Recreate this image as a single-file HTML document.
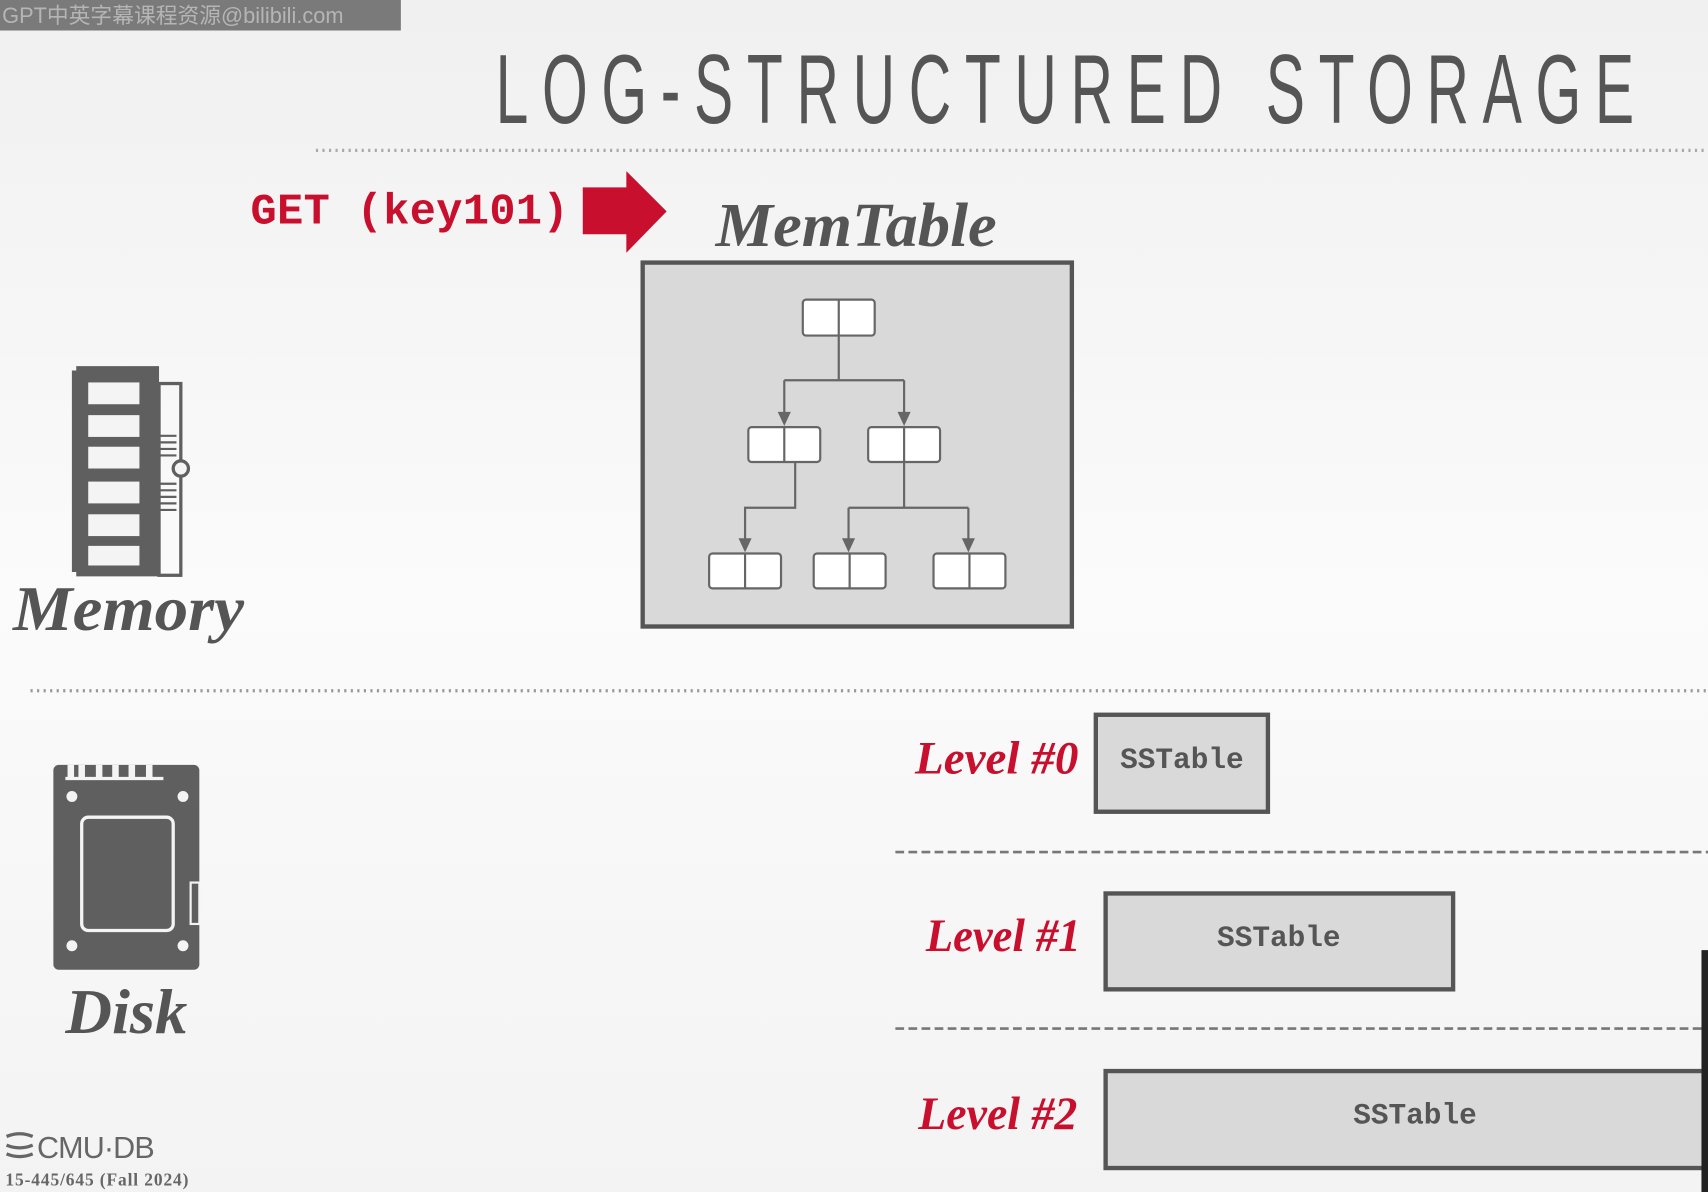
<!DOCTYPE html>
<html><head><meta charset="utf-8"><style>
html,body{margin:0;padding:0;width:1708px;height:1192px;overflow:hidden;background:#f4f4f4}
svg{display:block}
.mono{font-family:"Liberation Mono",monospace}
.serif{font-family:"Liberation Serif",serif;font-style:italic;font-weight:bold}
</style></head><body>
<svg width="1708" height="1192" viewBox="0 0 1568 1094" preserveAspectRatio="none">
<defs>
<linearGradient id="bg" x1="0" y1="0" x2="0" y2="1"><stop offset="0" stop-color="#f0f0f0"/><stop offset="0.5" stop-color="#fbfbfb"/><stop offset="1" stop-color="#f3f3f3"/></linearGradient>
</defs>
<rect width="1568" height="1094" fill="url(#bg)"/>
<g>
<rect x="0" y="0" width="368" height="28" fill="#7a7a7a"/>
<text x="2" y="21" font-size="20" fill="#b5b5b5" font-family="Liberation Sans,'Noto Sans CJK SC',sans-serif">GPT中英字幕课程资源@bilibili.com</text>
</g>
<text transform="translate(455,113) scale(0.6,1)" x="0" y="0" font-size="90" fill="#555" font-family="Liberation Sans,sans-serif" textLength="1742" lengthAdjust="spacing">LOG-STRUCTURED STORAGE</text>
<line x1="290" y1="138" x2="1568" y2="138" stroke="#aaa" stroke-width="3" stroke-dasharray="2,4"/>

<text x="230" y="205" font-size="40" font-weight="bold" fill="#c8102e" class="mono" textLength="292">GET (key101)</text>
<path d="M535,172 L575,172 L575,157 L612,194 L575,232 L575,215 L535,215 Z" fill="#c8102e"/>
<text x="657" y="226" font-size="57" fill="#555" class="serif" textLength="258" lengthAdjust="spacingAndGlyphs">MemTable</text>
<rect x="590" y="241" width="394" height="334" fill="#d9d9d9" stroke="#555" stroke-width="4"/>
<g stroke="#666" stroke-width="2" fill="none">
<path d="M770,308 V349 M720,349 H830 M720,349 V382 M830,349 V382"/>
<path d="M730,424 V466 H684 V498"/>
<path d="M830,424 V466 M779,466 H889 M779,466 V498 M889,466 V498"/>
</g>
<g fill="#666">
<path d="M714,378 L726,378 L720,391 Z"/><path d="M824,378 L836,378 L830,391 Z"/>
<path d="M678,494 L690,494 L684,507 Z"/><path d="M773,494 L785,494 L779,507 Z"/><path d="M883,494 L895,494 L889,507 Z"/>
</g>
<g fill="#fff" stroke="#666" stroke-width="2">
<g><rect x="737" y="275" width="66" height="33" rx="3"/><line x1="770" y1="275" x2="770" y2="308"/></g>
<g><rect x="687" y="392" width="66" height="32" rx="3"/><line x1="720" y1="392" x2="720" y2="424"/></g>
<g><rect x="797" y="392" width="66" height="32" rx="3"/><line x1="830" y1="392" x2="830" y2="424"/></g>
<g><rect x="651" y="508" width="66" height="32" rx="3"/><line x1="684" y1="508" x2="684" y2="540"/></g>
<g><rect x="747" y="508" width="66" height="32" rx="3"/><line x1="780" y1="508" x2="780" y2="540"/></g>
<g><rect x="857" y="508" width="66" height="32" rx="3"/><line x1="890" y1="508" x2="890" y2="540"/></g>
</g>

<g fill="#5f5f5f">
<path d="M70,336 H146 V529 H70 V525 H66 V340 H70 Z"/>
<rect x="146" y="352" width="20" height="176" fill="none" stroke="#5f5f5f" stroke-width="3"/>
<g fill="#f4f4f4"><rect x="81" y="351" width="47" height="20"/><rect x="81" y="381" width="47" height="20"/><rect x="81" y="410" width="47" height="20"/><rect x="81" y="442" width="47" height="20"/><rect x="81" y="472" width="47" height="20"/><rect x="81" y="501" width="47" height="18"/></g>
<g stroke="#5f5f5f" stroke-width="2"><line x1="146" y1="400" x2="162" y2="400"/><line x1="146" y1="406" x2="162" y2="406"/><line x1="146" y1="412" x2="162" y2="412"/><line x1="146" y1="418" x2="162" y2="418"/><line x1="146" y1="444" x2="162" y2="444"/><line x1="146" y1="450" x2="162" y2="450"/><line x1="146" y1="456" x2="162" y2="456"/><line x1="146" y1="462" x2="162" y2="462"/><line x1="146" y1="468" x2="162" y2="468"/></g>
<circle cx="166" cy="430" r="7" fill="#f4f4f4" stroke="#5f5f5f" stroke-width="3"/>
</g>
<text x="12" y="578" font-size="58" fill="#555" class="serif" textLength="212" lengthAdjust="spacingAndGlyphs">Memory</text>
<line x1="28" y1="634" x2="1568" y2="634" stroke="#999" stroke-width="3" stroke-dasharray="2,4"/>

<g>
<rect x="49" y="702" width="134" height="188" rx="5" fill="#5f5f5f"/>
<g fill="#f4f4f4"><rect x="62" y="702" width="6" height="13"/><rect x="72" y="702" width="6" height="13"/><rect x="88" y="702" width="6" height="13"/><rect x="103" y="702" width="6" height="13"/><rect x="118" y="702" width="6" height="13"/><rect x="134" y="702" width="6" height="13"/><rect x="60" y="713" width="90" height="3"/>
<circle cx="66" cy="731" r="5"/><circle cx="168" cy="731" r="5"/><circle cx="66" cy="868" r="5"/><circle cx="168" cy="868" r="5"/></g>
<rect x="75" y="750" width="84" height="104" rx="6" fill="#5f5f5f" stroke="#f4f4f4" stroke-width="3"/>
<rect x="175" y="810" width="8" height="38" fill="#5f5f5f" stroke="#f4f4f4" stroke-width="2"/>
</g>
<text x="60" y="948" font-size="58" fill="#555" class="serif" textLength="112" lengthAdjust="spacingAndGlyphs">Disk</text>

<text x="840" y="710" font-size="43" fill="#c8102e" class="serif" textLength="150" lengthAdjust="spacingAndGlyphs">Level #0</text>
<rect x="1006" y="656" width="158" height="89" fill="#d9d9d9" stroke="#555" stroke-width="4"/>
<text x="1085" y="705" font-size="27" fill="#555" class="mono" font-weight="bold" text-anchor="middle">SSTable</text>
<line x1="822" y1="782" x2="1568" y2="782" stroke="#777" stroke-width="2.5" stroke-dasharray="8,4"/>

<text x="850" y="873" font-size="43" fill="#c8102e" class="serif" textLength="142" lengthAdjust="spacingAndGlyphs">Level #1</text>
<rect x="1015" y="820" width="319" height="88" fill="#d9d9d9" stroke="#555" stroke-width="4"/>
<text x="1174" y="868" font-size="27" fill="#555" class="mono" font-weight="bold" text-anchor="middle">SSTable</text>
<line x1="822" y1="944" x2="1568" y2="944" stroke="#777" stroke-width="2.5" stroke-dasharray="8,4"/>

<text x="843" y="1036" font-size="43" fill="#c8102e" class="serif" textLength="146" lengthAdjust="spacingAndGlyphs">Level #2</text>
<rect x="1015" y="983" width="570" height="89" fill="#d9d9d9" stroke="#555" stroke-width="4"/>
<text x="1299" y="1031" font-size="27" fill="#555" class="mono" font-weight="bold" text-anchor="middle">SSTable</text>
<rect x="1562" y="872" width="6" height="222" fill="#222"/>

<g fill="#666">
<g stroke="#666" stroke-width="3" fill="none"><path d="M6,1043 Q18,1038 30,1043"/><path d="M6,1051 Q18,1056 30,1051"/><path d="M6,1059 Q18,1064 30,1059"/></g>
<text x="34" y="1063" font-size="28" font-family="Liberation Sans,sans-serif" textLength="108">CMU·DB</text>
<text x="5" y="1088" font-size="16" font-family="Liberation Serif,serif" font-weight="bold" textLength="168">15-445/645 (Fall 2024)</text>
</g>
</svg>
</body></html>
